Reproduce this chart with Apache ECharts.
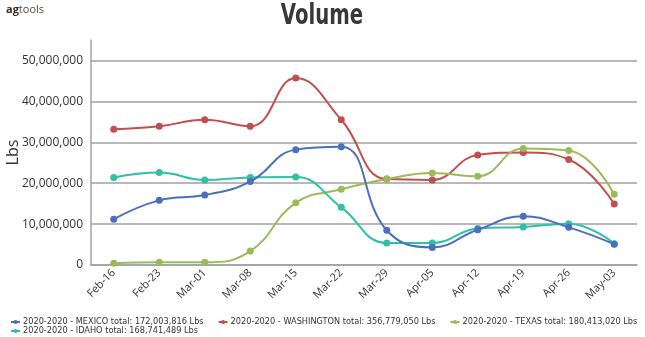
<!DOCTYPE html>
<html>
<head>
<meta charset="utf-8">
<script src="https://cdn.jsdelivr.net/npm/echarts@6/dist/echarts.min.js"></script>
<style>
  html, body { margin: 0; padding: 0; background: #fff; }
  #chart { width: 645px; height: 337px; }
</style>
</head>
<body>
<div id="chart"></div>
<script>
// Weekly shipment dates
const weeks = ['Feb-16', 'Feb-23', 'Mar-01', 'Mar-08', 'Mar-15', 'Mar-22',
               'Mar-29', 'Apr-05', 'Apr-12', 'Apr-19', 'Apr-26', 'May-03'];

// Weekly volume per origin, Lbs
const mexico     = [11200000, 15800000, 17100000, 20400000, 28200000, 28900000,
                    8500000, 4300000, 8600000, 11900000, 9200000, 5100000];
const washington = [33200000, 33900000, 35500000, 33900000, 45700000, 35500000,
                    21000000, 20800000, 26900000, 27500000, 25800000, 14900000];
const texas      = [400000, 650000, 650000, 3400000, 15200000, 18500000,
                    21000000, 22500000, 21700000, 28500000, 28000000, 17300000];
const idaho      = [21400000, 22600000, 20800000, 21400000, 21500000, 14100000,
                    5400000, 5400000, 8900000, 9300000, 10100000, 5200000];

const seriesNames = [
  '2020-2020 - MEXICO total: 172,003,816 Lbs',
  '2020-2020 - WASHINGTON total: 356,779,050 Lbs',
  '2020-2020 - TEXAS total: 180,413,020 Lbs',
  '2020-2020 - IDAHO total: 168,741,489 Lbs'
];
const seriesData = [mexico, washington, texas, idaho];
const colors = ['#4a70bd', '#c0504d', '#9bbb59', '#2fc0a6'];

const chart = echarts.init(document.getElementById('chart'), null, { renderer: 'canvas' });

const fmt = v => v.toString().replace(/\B(?=(\d{3})+(?!\d))/g, ',');

const legendCommon = {
  orient: 'horizontal',
  width: 640,
  itemWidth: 9,
  itemHeight: 5,
  itemGap: 14,
  textStyle: { fontFamily: 'DejaVu Sans', fontSize: 8.2, color: '#333', padding: [0, 0, 0, -2] },
  padding: 0
};

chart.setOption({
  animation: false,
  color: colors,
  graphic: [{
    // condensed heavy heading
    type: 'text',
    x: 322,
    y: 16.5,
    scaleX: 0.68,
    style: {
      text: 'Volume',
      font: 'bold 29px "DejaVu Sans"',
      fill: '#383838',
      textAlign: 'center',
      textVerticalAlign: 'middle'
    }
  }, {
    type: 'text',
    left: 6,
    top: 4,
    style: {
      text: '{a|ag}{b|tools}',
      rich: {
        a: { fontFamily: 'Open Sans', fontWeight: 'bold', fontSize: 11, fill: '#3b2b20' },
        b: { fontFamily: 'Open Sans', fontSize: 11, fill: '#5a4a40' }
      }
    }
  }],
  legend: [
    Object.assign({ left: 10, top: 318, data: seriesNames.slice(0, 3) }, legendCommon),
    Object.assign({ left: 10, top: 327, data: seriesNames.slice(3) }, legendCommon)
  ],
  grid: { left: 91, right: 8, top: 40, bottom: 72, containLabel: false, outerBoundsMode: 'none' },
  xAxis: {
    type: 'category',
    data: weeks,
    boundaryGap: true,
    axisLine: { lineStyle: { color: '#a0a0a0', width: 1.5 } },
    axisTick: { alignWithLabel: true, length: 5, lineStyle: { color: '#a0a0a0' } },
    axisLabel: {
      rotate: 45,
      fontFamily: 'Open Sans',
      fontSize: 11,
      color: '#333',
      margin: 6
    },
    splitLine: { show: false }
  },
  yAxis: {
    type: 'value',
    min: 0,
    max: 55000000,
    interval: 10000000,
    name: 'Lbs',
    nameLocation: 'middle',
    nameRotate: 90,
    nameGap: 70,
    nameMoveOverlap: false,
    nameTextStyle: { fontFamily: 'Open Sans', fontSize: 16, color: '#333' },
    axisLine: { show: true, lineStyle: { color: '#a0a0a0', width: 1.5 } },
    axisTick: { show: false },
    axisLabel: {
      fontFamily: 'Open Sans',
      fontSize: 12,
      color: '#333',
      margin: 8,
      showMaxLabel: false,
      formatter: v => fmt(v)
    },
    splitLine: { show: true, showMaxLine: false, lineStyle: { color: '#a0a0a0', width: 1.5 } }
  },
  series: seriesData.map((d, i) => ({
    name: seriesNames[i],
    type: 'line',
    data: d,
    smooth: 0.45,
    symbol: 'circle',
    symbolSize: 7,
    lineStyle: { width: 2 },
    itemStyle: { color: colors[i] },
    z: i === 0 ? 3 : 2
  }))
});
</script>
</body>
</html>
